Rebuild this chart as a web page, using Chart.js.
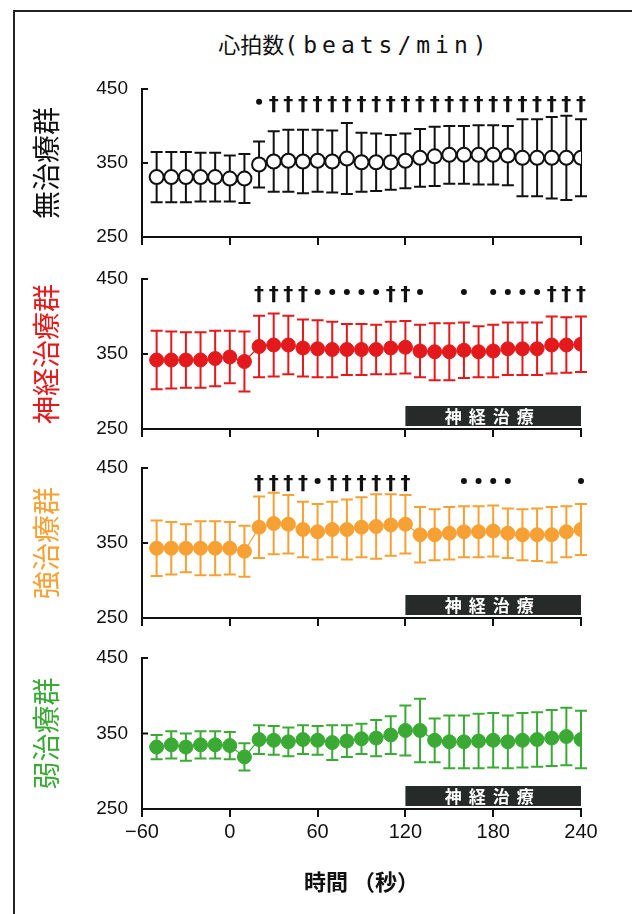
<!DOCTYPE html>
<html>
<head>
<meta charset="utf-8">
<script src="https://cdn.jsdelivr.net/npm/chart.js@4.4.1/dist/chart.umd.min.js"></script>
<style>
    body { margin: 0; width: 632px; height: 914px; background: #fff; position: relative; overflow: hidden; }
    #frame { position: absolute; left: 13px; top: 10px; width: 700px; height: 1000px; border-left: 2px solid #222; border-top: 2px solid #222; }
    #title { position: absolute; left: 0; top: 29px; width: 710px; text-align: center; font-size: 22px; line-height: 28px; color: #111; white-space: nowrap; }
    #title .jp { font-family: "Noto Sans CJK JP"; }
    #title .en { font-family: "DejaVu Sans Mono"; font-size: 23px; letter-spacing: 5px; }
    canvas { position: absolute; left: 0; }
</style>
</head>
<body>
<div id="frame"></div>
<div id="title"><span class="jp">心拍数</span><span class="en">(beats/min)</span></div>
<canvas id="p1" width="632" height="180" style="top:69px"></canvas>
<canvas id="p2" width="632" height="182" style="top:259px"></canvas>
<canvas id="p3" width="632" height="182" style="top:448px"></canvas>
<canvas id="p4" width="632" height="261" style="top:638px"></canvas>
<script>
// time points (sec)
const times = [-50, -40, -30, -20, -10, 0, 10, 20, 30, 40, 50, 60, 70, 80, 90, 100,
    110, 120, 130, 140, 150, 160, 170, 180, 190, 200, 210, 220, 230, 240];

const xTicks = [-60, 0, 60, 120, 180, 240];
const xTickLabels = ['\u221260', '0', '60', '120', '180', '240'];
const yTicks = [250, 350, 450];

const groups = ['無治療群', '神経治療群', '強治療群', '弱治療群'];

// 無治療群
const mean1 = [331, 331, 331, 331, 331, 329, 329, 348, 352, 353, 352, 353, 352, 356, 351, 351,
    351, 353, 357, 359, 361, 361, 361, 361, 360, 357, 357, 357, 357, 357];
const sd1 = [34, 34, 34, 33, 33, 31, 33, 31, 41, 42, 43, 42, 42, 48, 40, 39,
    37, 37, 39, 40, 39, 39, 40, 40, 40, 52, 52, 55, 57, 52];
const marks1 = ['', '', '', '', '', '', '', '*', '†', '†', '†', '†', '†', '†', '†', '†',
    '†', '†', '†', '†', '†', '†', '†', '†', '†', '†', '†', '†', '†', '†'];

// 神経治療群
const mean2 = [342, 342, 342, 342, 344, 346, 340, 360, 362, 362, 358, 357, 356, 356, 356, 356,
    358, 359, 354, 353, 353, 355, 353, 354, 357, 357, 357, 362, 362, 363];
const sd2 = [39, 38, 37, 37, 37, 35, 40, 41, 42, 39, 38, 38, 37, 34, 34, 33,
    35, 35, 35, 38, 38, 37, 34, 35, 35, 35, 35, 38, 37, 37];
const marks2 = ['', '', '', '', '', '', '', '†', '†', '†', '†', '*', '*', '*', '*', '*',
    '†', '†', '*', '', '', '*', '', '*', '*', '*', '*', '†', '†', '†'];

// 強治療群
const mean3 = [343, 343, 343, 343, 343, 343, 339, 371, 376, 375, 368, 365, 368, 368, 371, 372,
    374, 375, 361, 361, 363, 365, 365, 366, 363, 361, 361, 361, 365, 368];
const sd3 = [37, 35, 32, 36, 36, 35, 34, 41, 41, 39, 37, 37, 37, 40, 40, 43,
    41, 39, 37, 34, 35, 34, 34, 34, 33, 34, 35, 37, 34, 34];
const marks3 = ['', '', '', '', '', '', '', '†', '†', '†', '†', '*', '†', '†', '†', '†',
    '†', '†', '', '', '', '*', '*', '*', '*', '', '', '', '', '*'];

// 弱治療群
const mean4 = [332, 335, 332, 335, 335, 334, 319, 342, 341, 339, 342, 341, 338, 340, 343, 344,
    348, 354, 354, 341, 339, 339, 340, 341, 339, 341, 342, 344, 346, 342];
const sd4 = [16, 18, 18, 18, 18, 18, 18, 19, 19, 19, 19, 19, 23, 21, 20, 24,
    25, 33, 42, 29, 35, 35, 36, 36, 35, 36, 36, 37, 38, 38];
const marks4 = times.map(() => '');

// nerve treatment period
const treatLabel = '神経治療';
const treatStart = 120;
const treatEnd = 240;
const markLevel = 430;

const errorBars = {
    id: 'errorBars',
    beforeDatasetsDraw(chart, args, opts) {
        const { ctx, scales: { x, y } } = chart;
        ctx.save();
        ctx.strokeStyle = opts.color;
        ctx.lineWidth = 2;
        opts.mean.forEach((m, i) => {
            const px = x.getPixelForValue(times[i]);
            const top = y.getPixelForValue(m + opts.sd[i]);
            const bot = y.getPixelForValue(m - opts.sd[i]);
            ctx.beginPath();
            ctx.moveTo(px, top); ctx.lineTo(px, bot);
            ctx.moveTo(px - 6, top); ctx.lineTo(px + 6, top);
            ctx.moveTo(px - 6, bot); ctx.lineTo(px + 6, bot);
            ctx.stroke();
        });
        ctx.restore();
    }
};

const panelDecor = {
    id: 'panelDecor',
    afterDraw(chart, args, opts) {
        const { ctx, scales: { x, y } } = chart;
        ctx.save();
        // inward y ticks
        ctx.strokeStyle = '#111';
        ctx.lineWidth = 2;
        yTicks.forEach(v => {
            const py = y.getPixelForValue(v);
            ctx.beginPath();
            ctx.moveTo(x.left, py);
            ctx.lineTo(x.left + 6, py);
            ctx.stroke();
        });
        // significance marks
        ctx.fillStyle = '#111';
        ctx.font = 'bold 20px "DejaVu Sans"';
        ctx.textAlign = 'center';
        ctx.textBaseline = 'middle';
        opts.marks.forEach((mk, i) => {
            const px = x.getPixelForValue(times[i]);
            const py = y.getPixelForValue(markLevel);
            if (mk === '†') {
                ctx.fillText('†', px, py + 1);
            } else if (mk === '*') {
                ctx.beginPath();
                ctx.arc(px, py - 2, 3, 0, Math.PI * 2);
                ctx.fill();
            }
        });
        // treatment bar
        if (opts.treat) {
            const x1 = x.getPixelForValue(treatStart);
            const x2 = x.getPixelForValue(treatEnd);
            const yb = chart.chartArea.bottom - 3;
            const yt = yb - 20;
            ctx.fillStyle = '#262b2a';
            ctx.fillRect(x1, yt, x2 - x1, yb - yt);
            ctx.fillStyle = '#fff';
            ctx.font = 'bold 17px "Noto Sans CJK JP"';
            const cx = (x1 + x2) / 2 - 4;
            const chars = [...treatLabel];
            chars.forEach((c, k) => {
                ctx.fillText(c, cx + (k - (chars.length - 1) / 2) * 24, (yt + yb) / 2 + 1);
            });
        }
        ctx.restore();
    }
};

function makePanel(id, cfg) {
    const ctx = document.getElementById(id).getContext('2d');
    const filled = !cfg.open;
    new Chart(ctx, {
        type: 'line',
        data: {
            datasets: [{
                data: times.map((t, i) => ({ x: t, y: cfg.mean[i] })),
                showLine: filled,
                borderColor: cfg.color,
                borderWidth: 1.2,
                pointRadius: 7,
                pointBackgroundColor: filled ? cfg.color : '#fff',
                pointBorderColor: filled ? cfg.color : '#111',
                pointBorderWidth: filled ? 1 : 2
            }]
        },
        options: {
            responsive: false,
            animation: false,
            layout: { padding: { top: 20, left: 0, right: 51, bottom: 0 } },
            plugins: {
                legend: { display: false },
                tooltip: { enabled: false },
                errorBars: { mean: cfg.mean, sd: cfg.sd, color: cfg.open ? '#111' : cfg.color },
                panelDecor: { marks: cfg.marks, treat: cfg.treat }
            },
            scales: {
                x: {
                    type: 'linear',
                    min: -60,
                    max: 240,
                    afterBuildTicks: s => { s.ticks = xTicks.map(v => ({ value: v })); },
                    afterFit: s => { s.height = cfg.xHeight; },
                    grid: { drawOnChartArea: false, drawTicks: true, tickLength: 8, color: '#111', lineWidth: 2 },
                    border: { display: true, color: '#111', width: 2 },
                    ticks: {
                        display: cfg.xLabels,
                        maxRotation: 0,
                        padding: 3,
                        color: '#111',
                        font: { family: 'Liberation Sans', size: 20 },
                        callback: v => xTickLabels[xTicks.indexOf(v)]
                    },
                    title: {
                        display: cfg.xLabels,
                        text: '時間 （秒）',
                        color: '#111',
                        padding: { top: 0, bottom: 4 },
                        font: { family: 'Noto Sans CJK JP', size: 22, weight: 'bold' }
                    }
                },
                y: {
                    min: 250,
                    max: 450,
                    afterBuildTicks: s => { s.ticks = yTicks.map(v => ({ value: v })); },
                    afterFit: s => { s.width = 142; s.paddingTop = 0; s.paddingBottom = 0; },
                    grid: { drawOnChartArea: false, drawTicks: true, tickLength: 14, color: 'rgba(0,0,0,0)' },
                    border: { display: true, color: '#111', width: 2 },
                    ticks: {
                        padding: 0,
                        color: '#111',
                        font: { family: 'Liberation Sans', size: 19 }
                    },
                    title: {
                        display: true,
                        text: cfg.label,
                        color: cfg.labelColor,
                        padding: { top: 30, bottom: 0 },
                        font: { family: 'Noto Sans CJK JP', size: 28 }
                    }
                }
            }
        },
        plugins: [errorBars, panelDecor]
    });
}

makePanel('p1', { mean: mean1, sd: sd1, marks: marks1, color: '#111', open: true, label: groups[0], labelColor: '#111', treat: false, xLabels: false, xHeight: 12 });
makePanel('p2', { mean: mean2, sd: sd2, marks: marks2, color: '#e3191c', label: groups[1], labelColor: '#e3191c', treat: true, xLabels: false, xHeight: 12 });
makePanel('p3', { mean: mean3, sd: sd3, marks: marks3, color: '#f7a033', label: groups[2], labelColor: '#f7a033', treat: true, xLabels: false, xHeight: 12 });
makePanel('p4', { mean: mean4, sd: sd4, marks: marks4, color: '#3aaa35', label: groups[3], labelColor: '#3aaa35', treat: true, xLabels: true, xHeight: 90 });
</script>
</body>
</html>
